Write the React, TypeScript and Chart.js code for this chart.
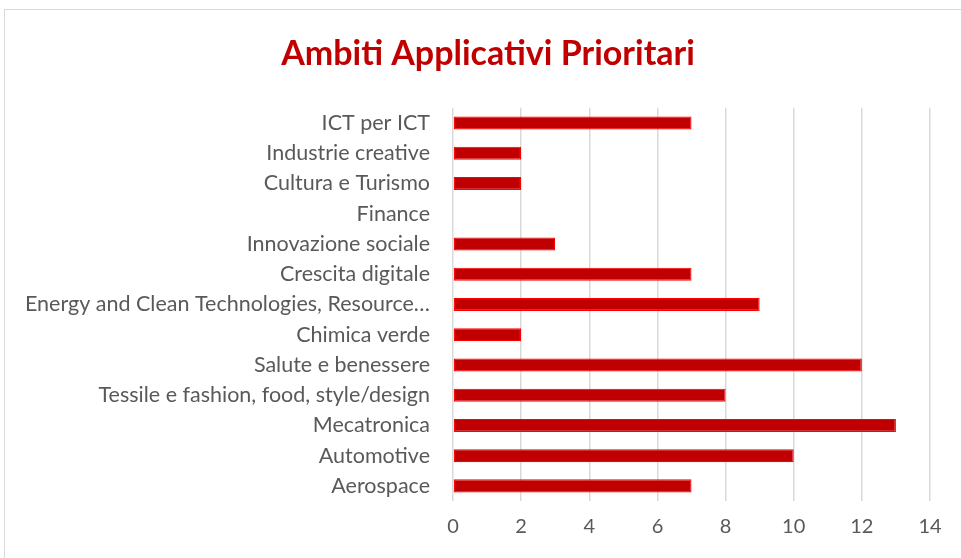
import React, { useEffect, useRef } from "react";
import { Chart, registerables } from "chart.js";

Chart.register(...registerables);

const TITLE = "Ambiti Applicativi Prioritari";
const categories = [
  "ICT per ICT",
  "Industrie creative",
  "Cultura e Turismo",
  "Finance",
  "Innovazione sociale",
  "Crescita digitale",
  "Energy and Clean Technologies, Resource…",
  "Chimica verde",
  "Salute e benessere",
  "Tessile e fashion, food, style/design",
  "Mecatronica",
  "Automotive",
  "Aerospace",
];
const values = [7, 2, 2, 0, 3, 7, 9, 2, 12, 8, 13, 10, 7];
const xMin = 0;
const xMax = 14;
const xStep = 2;

export default function App() {
  const ref = useRef<HTMLCanvasElement | null>(null);
  useEffect(() => {
    if (!ref.current) return;
    const chart = new Chart(ref.current, {
      type: "bar",
      data: {
        labels: categories,
        datasets: [
          {
            data: values,
            backgroundColor: "#C00000",
            borderColor: "#FF0000",
            borderWidth: 1.2,
            borderSkipped: false,
            barPercentage: 0.86,
            categoryPercentage: 0.5,
          },
        ],
      },
      options: {
        indexAxis: "y",
        animation: false,
        responsive: false,
        maintainAspectRatio: false,
        layout: { padding: { left: 10, right: 0, top: 0, bottom: 5 } },
        plugins: {
          legend: { display: false },
          tooltip: { enabled: false },
          title: {
            display: true,
            text: TITLE,
            color: "#C00000",
            font: { family: "Lato", size: 34, weight: "bold" },
            padding: { top: 24, bottom: 33 },
          },
        },
        scales: {
          x: {
            min: xMin,
            max: xMax,
            ticks: {
              stepSize: xStep,
              color: "#595959",
              font: { family: "Lato", size: 20 },
              padding: 14,
            },
            grid: { color: "#d9d9d9", lineWidth: 1.5, drawTicks: false },
            border: { display: false },
          },
          y: {
            ticks: {
              color: "#595959",
              font: { family: "Lato", size: 21.5 },
              padding: 15,
              autoSkip: false,
            },
            grid: { display: false },
            border: { display: false },
            afterFit: (s: any) => {
              s.width = 438;
            },
          },
          yRight: {
            type: "linear",
            position: "right",
            display: true,
            ticks: { display: false },
            grid: { display: false },
            border: { display: false },
            afterFit: (s: any) => {
              s.width = 31;
            },
          },
        },
      },
    });
    return () => chart.destroy();
  }, []);
  return (
    <div style={{ position: "fixed", inset: 0, overflow: "hidden", background: "#fff" }}>
      <div
        style={{
          position: "absolute",
          left: 4,
          top: 9,
          width: 990,
          height: 580,
          border: "1px solid #d9d9d9",
          boxSizing: "border-box",
        }}
      >
        <canvas ref={ref} width={956} height={548} style={{ display: "block" }} />
      </div>
    </div>
  );
}
